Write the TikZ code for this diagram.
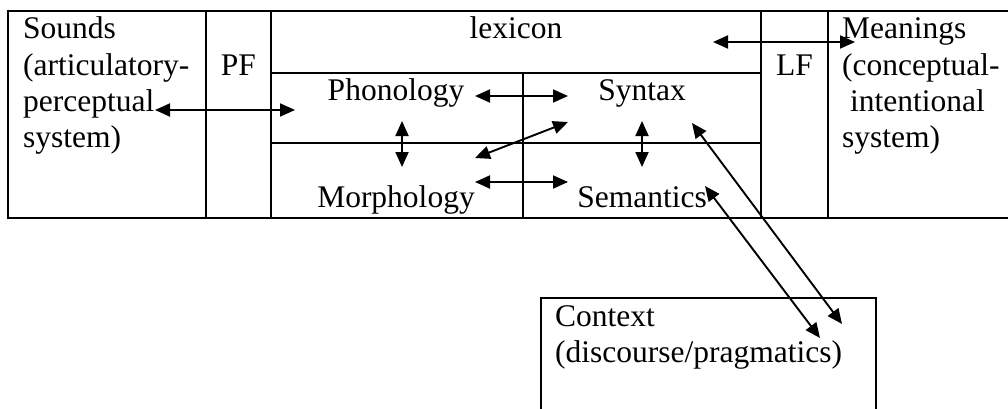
\documentclass[tikz,border=0pt]{standalone}
\usepackage{fontspec}
\setmainfont{Liberation Serif}
\usetikzlibrary{arrows.meta}
\begin{document}
\begin{tikzpicture}[x=1pt,y=-1pt,
  frame/.style={line width=2pt, line cap=rect},
  lbl/.style={inner sep=0pt, anchor=base west, align=left, font=\fontsize{31.5}{36.3}\selectfont},
  clbl/.style={inner sep=0pt, anchor=base, font=\fontsize{31.5}{36.3}\selectfont},
  dbl/.style={line width=1.9pt, {Triangle[length=15pt,width=13pt]}-{Triangle[length=15pt,width=13pt]}}]
\useasboundingbox (0,0) rectangle (1008,409);
% main table
\draw[frame] (1008,11) -- (8,11) -- (8,218) -- (1008,218);
\draw[frame] (206,11) -- (206,218);
\draw[frame] (271,11) -- (271,218);
\draw[frame] (761,11) -- (761,218);
\draw[frame] (828,11) -- (828,218);
\draw[frame] (271,73) -- (761,73);
\draw[frame] (271,143) -- (761,143);
\draw[frame] (523,73) -- (523,218);
% context box
\draw[frame] (541,409) -- (541,298) -- (876,298) -- (876,409);
% texts (multi-line nodes are placed at the baseline of their last line)
\node[lbl] (sounds) at (23,147.9) {Sounds\\(articulatory-\\perceptual\\system)};
\node[clbl] (pf) at (238.5,75.3) {PF};
\node[clbl] (lexicon) at (516,39) {lexicon};
\node[clbl] (lf) at (794.5,75.3) {LF};
\node[lbl] (meanings) at (842,147.9) {Meanings\\(conceptual-\\\hspace*{8pt}intentional\\system)};
\node[clbl] (phon) at (396,101) {Phonology};
\node[clbl] (morph) at (396,207.3) {Morphology};
\node[clbl] (syn) at (642,101) {Syntax};
\node[clbl] (sem) at (642,207.3) {Semantics};
\node[lbl] (context) at (555,362.3) {Context\\(discourse/pragmatics)};
% arrow end points
\coordinate (pL) at (155,110);
\coordinate (pR) at (295,110);
\coordinate (psL) at (475,96);
\coordinate (psR) at (568,96);
\coordinate (pmT) at (402,121);
\coordinate (pmB) at (402,167);
\coordinate (dgL) at (475,158);
\coordinate (dgR) at (568,122);
\coordinate (msL) at (475,182);
\coordinate (msR) at (568,182);
\coordinate (ssT) at (642,121);
\coordinate (ssB) at (642,167);
\coordinate (lmL) at (713,42);
\coordinate (lmR) at (855,42);
\coordinate (scA) at (692,123);
\coordinate (scB) at (842,324);
\coordinate (ecA) at (705,186);
\coordinate (ecB) at (820,338);
% arrows
\draw[dbl] (pL) -- (pR);
\draw[dbl] (psL) -- (psR);
\draw[dbl] (pmT) -- (pmB);
\draw[dbl] (dgL) -- (dgR);
\draw[dbl] (msL) -- (msR);
\draw[dbl] (ssT) -- (ssB);
\draw[dbl] (lmL) -- (lmR);
\draw[dbl] (scA) -- (scB);
\draw[dbl] (ecA) -- (ecB);
\end{tikzpicture}
\end{document}
